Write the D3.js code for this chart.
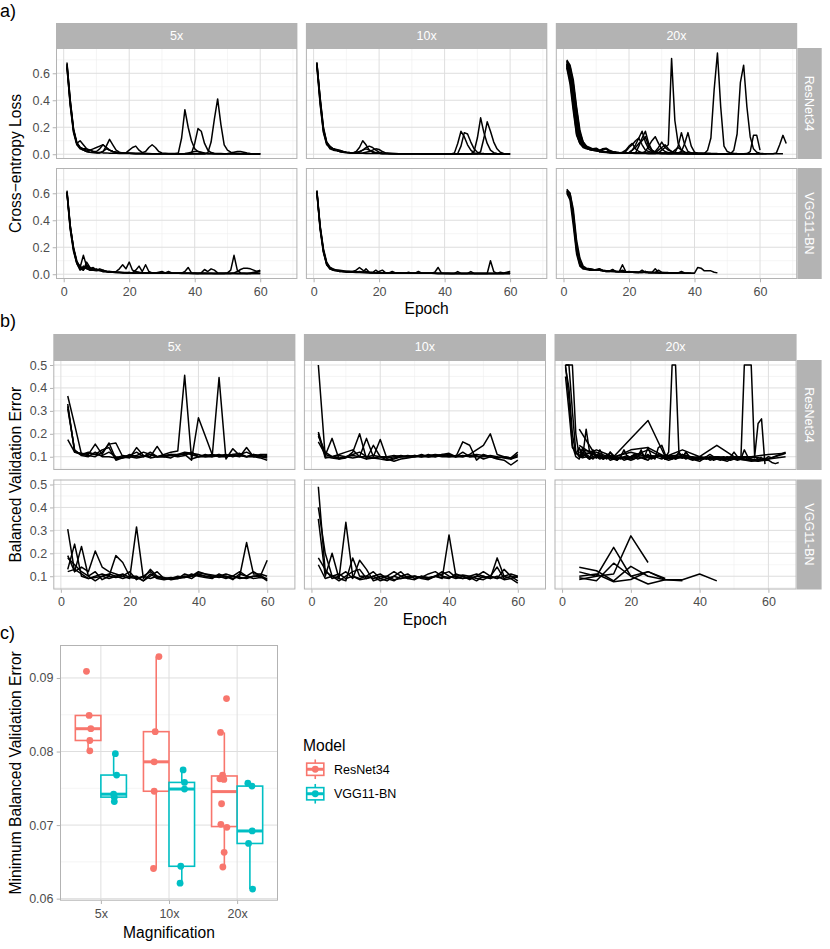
<!DOCTYPE html>
<html>
<head>
<meta charset="utf-8">
<script src="https://cdn.jsdelivr.net/npm/d3@7.9.0/dist/d3.min.js"></script>
<style>
  body { margin: 0; background: #fff; }
  svg { display: block; }
</style>
</head>
<body>
<svg id="chart" width="830" height="949"></svg>
<script>
const FONT = '"Liberation Sans", Arial, Helvetica, sans-serif';

const mags = ['5x', '10x', '20x'];
const models = ['ResNet34', 'VGG11-BN'];
const modelColors = ['#F8766D', '#00BFC4'];

// a) cross-entropy loss, one value per epoch from epoch 1
const lossResNet5x = [
  [0.68,0.4,0.18,0.08,0.1,0.07,0.04,0.03,0.02,0.015, 0.012,0.01,0.01,0.008,0.008,0.007,0.006,0.006,0.005,0.005, 0.005,0.004,0.004,0.004,0.004,0.003,0.003,0.003,0.003,0.003, 0.003,0.003,0.002,0.002,0.002,0.002,0.002,0.002,0.002,0.002, 0.002,0.002,0.002,0.01,0.09,0.26,0.41,0.22,0.07,0.03, 0.015,0.01,0.008,0.006,0.005,0.004,0.004,0.003,0.003,0.003],
  [0.66,0.38,0.18,0.08,0.05,0.04,0.03,0.03,0.04,0.05, 0.06,0.07,0.05,0.03,0.02,0.015,0.01,0.01,0.008,0.008, 0.007,0.006,0.006,0.005,0.005,0.005,0.004,0.004,0.004,0.004, 0.004,0.003,0.003,0.003,0.01,0.12,0.33,0.2,0.1,0.04, 0.02,0.012,0.008,0.006,0.005,0.004,0.004,0.003,0.003,0.003, 0.003,0.003,0.002,0.002,0.002,0.002,0.002,0.002,0.002,0.002],
  [0.65,0.36,0.16,0.07,0.04,0.03,0.02,0.015,0.012,0.01, 0.01,0.02,0.06,0.11,0.07,0.03,0.015,0.01,0.008,0.007, 0.006,0.006,0.005,0.005,0.004,0.004,0.004,0.004,0.003,0.003, 0.003,0.003,0.003,0.003,0.003,0.003,0.003,0.003,0.005,0.08, 0.19,0.17,0.08,0.03,0.012,0.008,0.006,0.005,0.004,0.004, 0.004,0.003,0.003,0.003,0.003,0.003,0.002,0.002,0.002,0.002],
  [0.67,0.4,0.19,0.09,0.05,0.03,0.02,0.015,0.012,0.01, 0.012,0.02,0.04,0.03,0.02,0.012,0.01,0.008,0.01,0.03, 0.05,0.06,0.03,0.012,0.02,0.05,0.07,0.05,0.02,0.01, 0.008,0.006,0.005,0.005,0.004,0.004,0.004,0.004,0.003,0.003, 0.003,0.003,0.003,0.003,0.003,0.003,0.003,0.003,0.003,0.005, 0.01,0.015,0.02,0.02,0.015,0.01,0.006,0.004,0.003,0.003],
  [0.64,0.37,0.17,0.08,0.05,0.04,0.04,0.03,0.02,0.02, 0.04,0.07,0.05,0.03,0.02,0.015,0.01,0.01,0.008,0.007, 0.006,0.006,0.005,0.005,0.005,0.004,0.004,0.004,0.004,0.004, 0.003,0.003,0.003,0.003,0.003,0.003,0.005,0.01,0.015,0.02, 0.02,0.015,0.01,0.006,0.005,0.004,0.004,0.003,0.003,0.003, 0.003,0.003,0.003,0.003,0.003,0.003,0.002,0.002,0.002,0.002]
];
const lossResNet10x = [
  [0.68,0.4,0.18,0.08,0.04,0.03,0.025,0.02,0.015,0.012, 0.01,0.01,0.008,0.008,0.007,0.006,0.006,0.005,0.005,0.005, 0.004,0.004,0.004,0.004,0.003,0.003,0.003,0.003,0.003,0.003, 0.003,0.003,0.002,0.002,0.002,0.002,0.002,0.002,0.002,0.002, 0.002,0.002,0.01,0.08,0.17,0.13,0.07,0.03,0.01,0.005, 0.004,0.003,0.003,0.003,0.002,0.002,0.002,0.002,0.002,0.002],
  [0.67,0.42,0.2,0.09,0.05,0.04,0.03,0.02,0.015,0.012, 0.01,0.01,0.02,0.05,0.1,0.07,0.03,0.015,0.01,0.008, 0.006,0.005,0.005,0.004,0.004,0.004,0.003,0.003,0.003,0.003, 0.003,0.003,0.003,0.002,0.002,0.002,0.002,0.002,0.002,0.002, 0.002,0.002,0.002,0.005,0.06,0.16,0.15,0.09,0.04,0.015, 0.008,0.005,0.004,0.003,0.003,0.002,0.002,0.002,0.002,0.002],
  [0.66,0.38,0.17,0.08,0.05,0.04,0.035,0.03,0.02,0.015, 0.012,0.01,0.01,0.015,0.03,0.05,0.06,0.05,0.03,0.015, 0.01,0.008,0.006,0.005,0.005,0.004,0.004,0.004,0.003,0.003, 0.003,0.003,0.003,0.003,0.003,0.002,0.002,0.002,0.002,0.002, 0.002,0.002,0.002,0.002,0.002,0.002,0.002,0.003,0.02,0.12, 0.27,0.16,0.08,0.03,0.012,0.006,0.004,0.003,0.002,0.002],
  [0.68,0.41,0.19,0.09,0.06,0.04,0.03,0.025,0.02,0.015, 0.012,0.01,0.008,0.008,0.01,0.015,0.02,0.03,0.04,0.035, 0.02,0.01,0.006,0.005,0.004,0.004,0.004,0.003,0.003,0.003, 0.003,0.003,0.003,0.003,0.002,0.002,0.002,0.002,0.002,0.002, 0.002,0.002,0.002,0.002,0.002,0.002,0.002,0.002,0.002,0.003, 0.02,0.12,0.24,0.17,0.09,0.04,0.015,0.006,0.003,0.002],
  [0.65,0.37,0.16,0.07,0.05,0.04,0.03,0.02,0.015,0.012, 0.01,0.01,0.015,0.02,0.03,0.04,0.03,0.02,0.012,0.008, 0.006,0.005,0.005,0.004,0.004,0.004,0.003,0.003,0.003,0.003, 0.003,0.003,0.002,0.002,0.002,0.002,0.002,0.002,0.002,0.002, 0.002,0.002,0.002,0.002,0.002,0.002,0.002,0.002,0.002,0.002, 0.002,0.002,0.002,0.002,0.002,0.002,0.002,0.002,0.002,0.002]
];
const lossResNet20x = [
  [0.69,0.62,0.45,0.25,0.12,0.07,0.05,0.04,0.03,0.03, 0.02,0.02,0.015,0.015,0.012,0.012,0.01,0.015,0.03,0.06, 0.08,0.04,0.02,0.012,0.01,0.008,0.008,0.007,0.007,0.006, 0.006,0.006,0.005,0.005,0.005,0.005,0.004,0.004,0.004,0.004, 0.004,0.004,0.004,0.003,0.003,0.003,0.003,0.003,0.003,0.003, 0.003,0.003,0.003,0.003,0.003,0.003,0.003,0.003,0.003,0.003, 0.003,0.003,0.003,0.003,0.01,0.07,0.14,0.08],
  [0.7,0.66,0.55,0.35,0.18,0.09,0.06,0.04,0.035,0.03, 0.02,0.018,0.015,0.013,0.012,0.01,0.01,0.009,0.009,0.008, 0.008,0.008,0.007,0.007,0.007,0.006,0.006,0.006,0.01,0.03, 0.05,0.07,0.71,0.25,0.08,0.03,0.015,0.01,0.008,0.007, 0.006,0.005,0.005,0.004,0.004,0.004,0.004,0.003,0.003,0.003, 0.003,0.003,0.003,0.003,0.003,0.003,0.003,0.003,0.003,0.003, 0.003,0.003,0.003,0.003,0.003,0.003,0.003],
  [0.67,0.6,0.42,0.22,0.1,0.06,0.045,0.035,0.03,0.04, 0.02,0.015,0.012,0.01,0.01,0.009,0.008,0.008,0.007,0.007, 0.007,0.006,0.006,0.006,0.005,0.005,0.005,0.005,0.005,0.004, 0.004,0.004,0.004,0.004,0.004,0.004,0.004,0.004,0.004,0.004, 0.003,0.003,0.005,0.03,0.12,0.48,0.75,0.35,0.06,0.02, 0.01,0.007,0.005,0.004,0.004,0.003,0.003,0.003,0.003,0.003, 0.003,0.003],
  [0.68,0.63,0.5,0.3,0.14,0.08,0.05,0.04,0.03,0.025, 0.02,0.03,0.04,0.025,0.015,0.012,0.01,0.01,0.009,0.009, 0.008,0.008,0.007,0.007,0.007,0.006,0.006,0.006,0.005,0.005, 0.005,0.005,0.005,0.005,0.004,0.004,0.004,0.004,0.004,0.004, 0.004,0.004,0.004,0.003,0.003,0.003,0.003,0.003,0.003,0.003, 0.003,0.03,0.15,0.53,0.66,0.35,0.13,0.04,0.015,0.008, 0.006],
  [0.66,0.58,0.38,0.18,0.09,0.06,0.05,0.04,0.04,0.03, 0.02,0.018,0.015,0.012,0.01,0.01,0.009,0.009,0.008,0.01, 0.03,0.07,0.12,0.17,0.09,0.04,0.02,0.012,0.01,0.008, 0.007,0.006,0.006,0.005,0.005,0.005,0.005,0.004,0.004,0.004, 0.004,0.004,0.004,0.004,0.003,0.003,0.003,0.003,0.003,0.003, 0.003,0.003,0.003,0.003,0.003,0.005,0.02,0.14,0.14,0.03],
  [0.65,0.55,0.35,0.15,0.08,0.05,0.04,0.035,0.03,0.025, 0.02,0.04,0.04,0.02,0.015,0.012,0.01,0.009,0.009,0.008, 0.008,0.01,0.06,0.12,0.17,0.08,0.03,0.015,0.01,0.008, 0.007,0.006,0.006,0.01,0.06,0.16,0.07,0.02,0.01,0.007, 0.006,0.005,0.005,0.004,0.004,0.004,0.004,0.004,0.003,0.003, 0.003,0.003,0.003,0.003,0.003,0.003,0.003],
  [0.67,0.6,0.46,0.26,0.12,0.07,0.05,0.04,0.04,0.035, 0.025,0.02,0.018,0.015,0.013,0.012,0.011,0.01,0.01,0.009, 0.009,0.008,0.008,0.01,0.02,0.06,0.1,0.13,0.08,0.04, 0.02,0.012,0.01,0.01,0.01,0.02,0.08,0.16,0.06,0.015, 0.008,0.006,0.005,0.005,0.004,0.004,0.004,0.004,0.004,0.003, 0.003,0.003,0.003,0.003,0.003],
  [0.64,0.52,0.32,0.14,0.08,0.06,0.05,0.04,0.035,0.04, 0.025,0.02,0.018,0.015,0.013,0.012,0.011,0.01,0.02,0.05, 0.07,0.1,0.12,0.07,0.03,0.02,0.015,0.02,0.05,0.09, 0.05,0.03,0.02,0.012,0.01,0.008,0.007,0.006,0.006,0.005, 0.005,0.005,0.004,0.004,0.004,0.004,0.004,0.003,0.003,0.003],
  [0.69,0.65,0.52,0.33,0.16,0.09,0.06,0.05,0.04,0.045, 0.03,0.04,0.045,0.03,0.02,0.015,0.012,0.011,0.01,0.01, 0.009,0.009,0.008,0.008,0.008,0.007,0.007,0.01,0.03,0.05, 0.07,0.04,0.02,0.012,0.01,0.009,0.008,0.007,0.007,0.006, 0.006,0.005,0.005,0.005,0.005,0.005,0.005],
  [0.66,0.57,0.4,0.2,0.1,0.06,0.045,0.035,0.03,0.028, 0.022,0.02,0.018,0.015,0.013,0.012,0.011,0.01,0.01,0.012, 0.03,0.05,0.08,0.1,0.13,0.06,0.03,0.015,0.012,0.01, 0.009,0.008,0.008,0.03,0.05,0.03,0.015,0.01,0.008,0.007, 0.006,0.006,0.005,0.005,0.005]
];
const lossVGG5x = [
  [0.61,0.35,0.2,0.1,0.05,0.14,0.06,0.04,0.05,0.03, 0.03,0.02,0.02,0.015,0.015,0.012,0.012,0.01,0.01,0.012, 0.01,0.01,0.012,0.01,0.01,0.009,0.009,0.01,0.008,0.008, 0.008,0.01,0.008,0.007,0.007,0.008,0.007,0.007,0.006,0.007, 0.006,0.006,0.007,0.006,0.006,0.006,0.005,0.006,0.005,0.01, 0.03,0.14,0.03,0.01,0.008,0.006,0.005,0.005,0.005,0.005],
  [0.6,0.33,0.17,0.08,0.04,0.03,0.09,0.05,0.04,0.03, 0.03,0.02,0.02,0.015,0.015,0.02,0.04,0.07,0.04,0.09, 0.03,0.02,0.015,0.012,0.01,0.012,0.01,0.01,0.008,0.008, 0.008,0.007,0.007,0.007,0.008,0.006,0.006,0.006,0.006,0.006, 0.006,0.005,0.006,0.005,0.005,0.005,0.005,0.005,0.005,0.005, 0.005,0.01,0.02,0.035,0.045,0.045,0.04,0.03,0.02,0.025],
  [0.62,0.36,0.19,0.09,0.06,0.04,0.05,0.03,0.04,0.03, 0.04,0.03,0.02,0.02,0.015,0.015,0.012,0.012,0.01,0.01, 0.012,0.03,0.06,0.02,0.07,0.02,0.01,0.01,0.01,0.012, 0.01,0.02,0.01,0.008,0.008,0.008,0.02,0.05,0.01,0.008, 0.007,0.007,0.007,0.007,0.007,0.006,0.006,0.006,0.006,0.006, 0.006,0.006,0.005,0.005,0.005,0.005,0.005,0.005,0.005,0.005],
  [0.6,0.34,0.18,0.08,0.03,0.06,0.04,0.03,0.03,0.025, 0.03,0.02,0.02,0.015,0.015,0.013,0.012,0.011,0.01,0.01, 0.01,0.01,0.01,0.01,0.009,0.009,0.009,0.008,0.008,0.008, 0.008,0.008,0.008,0.007,0.007,0.007,0.007,0.007,0.007,0.006, 0.006,0.01,0.035,0.02,0.04,0.03,0.01,0.008,0.007,0.007, 0.007,0.007,0.006,0.006,0.006,0.006,0.006,0.01,0.02,0.03],
  [0.61,0.36,0.19,0.09,0.05,0.03,0.07,0.04,0.03,0.04, 0.025,0.03,0.02,0.02,0.018,0.015,0.015,0.012,0.012,0.012, 0.01,0.01,0.01,0.01,0.01,0.01,0.009,0.009,0.015,0.02, 0.009,0.008,0.008,0.008,0.008,0.01,0.007,0.007,0.007,0.007, 0.006,0.006,0.006,0.006,0.006,0.006,0.006,0.005,0.005,0.005, 0.005,0.005,0.005,0.005,0.005,0.005,0.01,0.015,0.015,0.02]
];
const lossVGG10x = [
  [0.62,0.35,0.18,0.08,0.04,0.03,0.03,0.025,0.02,0.02, 0.02,0.02,0.03,0.05,0.03,0.02,0.015,0.012,0.01,0.01, 0.01,0.01,0.01,0.009,0.009,0.009,0.008,0.008,0.008,0.008, 0.007,0.007,0.007,0.007,0.007,0.007,0.007,0.006,0.006,0.006, 0.006,0.006,0.006,0.006,0.005,0.005,0.005,0.005,0.005,0.005, 0.005,0.005,0.005,0.1,0.02,0.006,0.005,0.005,0.005,0.005],
  [0.61,0.33,0.16,0.07,0.04,0.03,0.025,0.02,0.02,0.02, 0.02,0.015,0.015,0.02,0.015,0.04,0.015,0.012,0.01,0.01, 0.01,0.01,0.009,0.009,0.009,0.009,0.008,0.008,0.008,0.008, 0.007,0.02,0.007,0.007,0.007,0.007,0.015,0.05,0.01,0.006, 0.006,0.006,0.006,0.006,0.006,0.005,0.005,0.005,0.005,0.005, 0.005,0.005,0.005,0.005,0.005,0.005,0.005,0.005,0.01,0.02],
  [0.6,0.34,0.17,0.08,0.05,0.035,0.03,0.025,0.02,0.02, 0.018,0.016,0.015,0.014,0.013,0.012,0.011,0.011,0.01,0.02, 0.03,0.01,0.01,0.009,0.009,0.009,0.008,0.008,0.015,0.008, 0.008,0.007,0.007,0.007,0.007,0.007,0.006,0.006,0.006,0.006, 0.006,0.006,0.006,0.02,0.006,0.006,0.005,0.005,0.005,0.005, 0.005,0.005,0.005,0.005,0.005,0.005,0.005,0.005,0.005,0.005],
  [0.62,0.36,0.19,0.09,0.05,0.04,0.03,0.03,0.025,0.02, 0.02,0.02,0.018,0.016,0.015,0.014,0.013,0.012,0.03,0.012, 0.011,0.01,0.01,0.01,0.01,0.009,0.009,0.009,0.009,0.008, 0.008,0.008,0.008,0.008,0.007,0.007,0.007,0.007,0.007,0.007, 0.007,0.006,0.006,0.006,0.006,0.006,0.006,0.02,0.006,0.006, 0.006,0.006,0.006,0.006,0.006,0.006,0.015,0.01,0.015,0.02],
  [0.61,0.35,0.17,0.07,0.04,0.03,0.025,0.02,0.02,0.015, 0.015,0.015,0.013,0.012,0.012,0.011,0.01,0.01,0.01,0.01, 0.009,0.009,0.009,0.02,0.009,0.008,0.008,0.008,0.008,0.008, 0.007,0.007,0.007,0.007,0.007,0.007,0.007,0.006,0.006,0.006, 0.006,0.006,0.006,0.006,0.006,0.006,0.005,0.005,0.005,0.005, 0.005,0.005,0.005,0.005,0.005,0.005,0.005,0.005,0.005,0.005]
];
const lossVGG20x = [
  [0.63,0.6,0.45,0.22,0.1,0.05,0.04,0.035,0.03,0.03, 0.03,0.025,0.02,0.02,0.02,0.018,0.02,0.03,0.02,0.015, 0.015,0.013,0.012,0.012,0.012,0.011,0.011,0.01,0.01,0.01, 0.01,0.009,0.009,0.009,0.01,0.02,0.009,0.008,0.008,0.008, 0.05,0.045,0.025,0.025,0.025,0.015,0.01],
  [0.62,0.58,0.4,0.17,0.07,0.04,0.035,0.03,0.03,0.035, 0.04,0.025,0.02,0.02,0.03,0.02,0.018,0.07,0.02,0.015, 0.015,0.014,0.013,0.013,0.02,0.012,0.011,0.011,0.01,0.01, 0.01,0.01,0.009,0.009,0.009,0.009,0.008,0.008,0.008,0.008],
  [0.6,0.55,0.36,0.15,0.06,0.04,0.04,0.035,0.03,0.03, 0.03,0.025,0.025,0.022,0.02,0.02,0.018,0.016,0.015,0.015, 0.014,0.013,0.013,0.03,0.013,0.012,0.012,0.04,0.012,0.011, 0.011,0.01,0.01,0.01,0.01,0.009,0.009,0.009,0.008],
  [0.62,0.6,0.48,0.25,0.12,0.06,0.045,0.04,0.035,0.03, 0.04,0.03,0.025,0.022,0.035,0.02,0.018,0.018,0.017,0.02, 0.016,0.015,0.014,0.014,0.02,0.013,0.013,0.012,0.012,0.012, 0.011,0.011,0.011,0.01,0.01],
  [0.61,0.57,0.42,0.2,0.08,0.05,0.04,0.04,0.035,0.03, 0.03,0.028,0.025,0.025,0.023,0.02,0.02,0.02,0.018,0.018, 0.017,0.016,0.015,0.015,0.015,0.014,0.014,0.013,0.03,0.013, 0.012,0.012]
];

// b) balanced validation error
// 5x and 10x runs were validated every 2nd epoch starting at epoch 2
const valResNet5x = [
  [0.365,0.24,0.11,0.115,0.11,0.105,0.12,0.1,0.095,0.11, 0.1,0.105,0.095,0.1,0.11,0.12,0.125,0.455,0.09,0.1, 0.105,0.11,0.1,0.1,0.11,0.105,0.1,0.11,0.1,0.095],
  [0.33,0.12,0.115,0.11,0.155,0.11,0.16,0.09,0.1,0.105, 0.12,0.1,0.11,0.1,0.105,0.11,0.11,0.11,0.085,0.27, 0.19,0.11,0.1,0.105,0.11,0.115,0.1,0.11,0.105,0.1],
  [0.32,0.125,0.11,0.105,0.1,0.12,0.155,0.16,0.1,0.095, 0.14,0.105,0.1,0.145,0.1,0.11,0.105,0.115,0.11,0.1, 0.1,0.1,0.445,0.09,0.135,0.105,0.1,0.1,0.11,0.11],
  [0.175,0.12,0.11,0.12,0.11,0.13,0.14,0.085,0.095,0.1, 0.105,0.12,0.11,0.1,0.1,0.095,0.11,0.12,0.115,0.11, 0.1,0.105,0.11,0.1,0.105,0.1,0.14,0.1,0.095,0.085],
  [0.31,0.13,0.105,0.1,0.12,0.1,0.1,0.095,0.105,0.1, 0.095,0.1,0.12,0.1,0.1,0.105,0.1,0.105,0.12,0.1, 0.11,0.1,0.105,0.11,0.1,0.11,0.12,0.105,0.1,0.105]
];
const valResNet10x = [
  [0.5,0.1,0.095,0.09,0.1,0.095,0.1,0.1,0.095,0.1, 0.1,0.105,0.1,0.1,0.105,0.1,0.1,0.105,0.1,0.1, 0.1,0.1,0.105,0.11,0.105,0.1,0.095,0.1,0.09,0.11],
  [0.208,0.105,0.18,0.09,0.095,0.12,0.2,0.09,0.095,0.09, 0.085,0.09,0.1,0.1,0.105,0.1,0.11,0.1,0.105,0.11, 0.1,0.165,0.15,0.085,0.11,0.1,0.095,0.1,0.095,0.12],
  [0.165,0.11,0.1,0.095,0.1,0.105,0.1,0.18,0.1,0.175, 0.09,0.08,0.09,0.095,0.1,0.1,0.105,0.11,0.105,0.1, 0.105,0.1,0.11,0.13,0.15,0.2,0.11,0.1,0.095,0.105],
  [0.19,0.12,0.1,0.105,0.1,0.11,0.12,0.1,0.105,0.1, 0.095,0.1,0.105,0.1,0.1,0.11,0.1,0.105,0.11,0.115, 0.1,0.12,0.1,0.105,0.09,0.1,0.09,0.085,0.064,0.085],
  [0.2,0.095,0.1,0.11,0.12,0.13,0.1,0.09,0.15,0.1, 0.085,0.095,0.1,0.105,0.1,0.105,0.1,0.1,0.11,0.105, 0.1,0.105,0.1,0.1,0.1,0.105,0.1,0.095,0.09,0.1]
];
// 20x ResNet34: some runs validated every epoch from 1, others every 5th epoch from 5
const valResNet20xEach = [
  [0.5,0.5,0.5,0.2,0.1,0.12,0.1,0.09,0.1,0.095, 0.11,0.09,0.1,0.12,0.1,0.095,0.09,0.1,0.105,0.095, 0.1,0.09,0.095,0.1,0.11,0.095,0.1,0.105,0.1,0.095, 0.12,0.5,0.5,0.11,0.1,0.095,0.1,0.09,0.095,0.1, 0.095,0.1,0.09,0.095,0.1,0.09,0.085,0.09,0.095,0.1, 0.09,0.095,0.1,0.09,0.095,0.1,0.09,0.085,0.09,0.1, 0.095,0.1,0.105,0.11,0.115],
  [0.5,0.5,0.3,0.12,0.105,0.1,0.11,0.09,0.13,0.1, 0.095,0.09,0.1,0.085,0.09,0.1,0.095,0.085,0.09,0.1, 0.105,0.1,0.12,0.1,0.095,0.09,0.1,0.095,0.09,0.1, 0.095,0.1,0.09,0.095,0.11,0.1,0.09,0.085,0.09,0.1, 0.09,0.095,0.085,0.09,0.1,0.095,0.085,0.08,0.09,0.095, 0.1,0.09,0.5,0.5,0.5,0.1,0.245,0.265,0.068],
  [0.49,0.4,0.2,0.11,0.14,0.1,0.22,0.12,0.1,0.095, 0.13,0.1,0.09,0.12,0.105,0.09,0.1,0.095,0.09,0.085, 0.09,0.1,0.12,0.1,0.14,0.1,0.09,0.14,0.15,0.11, 0.1,0.09,0.095,0.1,0.095,0.12,0.1,0.09,0.085,0.09, 0.095,0.09,0.1,0.085,0.09,0.095,0.1,0.09,0.085,0.09],
  [0.5,0.35,0.15,0.1,0.09,0.14,0.11,0.1,0.09,0.105, 0.1,0.09,0.11,0.1,0.095,0.085,0.1,0.13,0.1,0.09, 0.095,0.1,0.13,0.09,0.085,0.1,0.095,0.11,0.1,0.09, 0.085,0.09,0.1,0.12,0.1,0.09,0.095,0.1,0.085,0.08, 0.09,0.1,0.11,0.1,0.09,0.095,0.085,0.09,0.1,0.12, 0.1,0.09,0.13,0.1,0.085,0.09,0.08,0.1],
  [0.45,0.3,0.14,0.12,0.1,0.095,0.1,0.09,0.12,0.1, 0.09,0.1,0.095,0.1,0.09,0.085,0.1,0.095,0.09,0.1, 0.11,0.1,0.095,0.09,0.1,0.095,0.1,0.105,0.1,0.09, 0.1,0.095,0.09,0.1,0.095,0.12,0.1,0.095,0.09,0.1, 0.095,0.09,0.1,0.095,0.09,0.085,0.09,0.1,0.095,0.09, 0.085,0.09,0.095,0.1,0.09,0.085,0.08,0.085,0.09,0.085, 0.075,0.07,0.075]
];
const valResNet20xEvery5 = [
  [0.22,0.1,0.1,0.18,0.258,0.1,0.095,0.1,0.09,0.095,0.1,0.11,0.115],
  [0.12,0.11,0.09,0.1,0.105,0.1,0.13,0.1,0.15,0.1,0.1,0.09,0.12],
  [0.15,0.1,0.095,0.13,0.14,0.1,0.11,0.09,0.1,0.095,0.08,0.085],
  [0.13,0.12,0.09,0.1,0.13,0.09,0.1,0.095,0.1,0.09,0.085,0.09,0.1],
  [0.1,0.13,0.1,0.12,0.1,0.105,0.1,0.09,0.095,0.1,0.085]
];
const valVGG5x = [
  [0.305,0.12,0.14,0.12,0.21,0.14,0.12,0.11,0.1,0.09, 0.315,0.09,0.13,0.1,0.09,0.095,0.09,0.1,0.1,0.12, 0.11,0.105,0.1,0.11,0.1,0.12,0.1,0.12,0.1,0.17],
  [0.13,0.24,0.1,0.09,0.1,0.11,0.1,0.19,0.16,0.1, 0.1,0.08,0.1,0.12,0.09,0.09,0.095,0.1,0.09,0.11, 0.1,0.1,0.105,0.1,0.09,0.1,0.247,0.11,0.11,0.1],
  [0.19,0.12,0.23,0.1,0.08,0.1,0.09,0.1,0.11,0.095, 0.09,0.1,0.12,0.095,0.09,0.09,0.1,0.095,0.1,0.115, 0.11,0.1,0.095,0.1,0.085,0.11,0.1,0.09,0.095,0.09],
  [0.18,0.15,0.12,0.1,0.12,0.085,0.1,0.095,0.1,0.12, 0.085,0.1,0.09,0.1,0.095,0.085,0.09,0.11,0.1,0.105, 0.1,0.095,0.1,0.09,0.1,0.095,0.09,0.1,0.1,0.08],
  [0.12,0.13,0.11,0.09,0.095,0.1,0.11,0.1,0.09,0.1, 0.095,0.08,0.11,0.09,0.085,0.09,0.09,0.095,0.11,0.1, 0.095,0.09,0.11,0.095,0.1,0.09,0.095,0.1,0.105,0.085]
];
const valVGG10x = [
  [0.49,0.12,0.1,0.09,0.335,0.1,0.09,0.1,0.12,0.09, 0.08,0.1,0.09,0.095,0.1,0.09,0.085,0.1,0.09,0.28, 0.1,0.09,0.095,0.08,0.1,0.09,0.18,0.1,0.09,0.1],
  [0.4,0.2,0.1,0.08,0.1,0.12,0.13,0.09,0.1,0.08, 0.09,0.1,0.12,0.09,0.1,0.095,0.09,0.1,0.12,0.1, 0.09,0.1,0.085,0.1,0.12,0.1,0.09,0.13,0.1,0.08],
  [0.35,0.1,0.2,0.09,0.08,0.18,0.1,0.1,0.09,0.1, 0.1,0.085,0.09,0.1,0.1,0.095,0.11,0.12,0.1,0.095, 0.1,0.105,0.1,0.09,0.085,0.1,0.14,0.09,0.1,0.095],
  [0.18,0.13,0.09,0.1,0.12,0.09,0.17,0.13,0.08,0.09, 0.1,0.12,0.1,0.09,0.085,0.1,0.095,0.1,0.11,0.12, 0.095,0.09,0.1,0.11,0.1,0.09,0.1,0.085,0.09,0.07],
  [0.15,0.09,0.1,0.11,0.09,0.1,0.085,0.09,0.1,0.11, 0.09,0.08,0.1,0.11,0.09,0.1,0.09,0.1,0.095,0.09, 0.11,0.1,0.09,0.1,0.095,0.1,0.09,0.1,0.11,0.1]
];
// 20x VGG11-BN: every 5th epoch from 5
const valVGG20x = [
  [0.119,0.1,0.11,0.276,0.16],
  [0.093,0.08,0.157,0.1,0.12,0.085,0.085,0.11,0.08],
  [0.139,0.124,0.08,0.143,0.1,0.085,0.08],
  [0.086,0.1,0.226,0.1,0.066,0.085],
  [0.1,0.11,0.076,0.086,0.12,0.09]
];

// c) minimum balanced validation error per run, with jitter (fraction of category step)
const minResNet5x = [0.0909, 0.0849, 0.0831, 0.0815, 0.0801];
const minResNet10x = [0.0929, 0.0827, 0.0786, 0.0746, 0.0641];
const minResNet20x = [0.0872, 0.0826, 0.0768, 0.0763, 0.0762, 0.0729, 0.0701, 0.0697, 0.0663, 0.0643];
const minVGG5x = [0.0797, 0.0768, 0.0742, 0.0738, 0.0732];
const minVGG10x = [0.0775, 0.0758, 0.0749, 0.0644, 0.0621];
const minVGG20x = [0.0757, 0.0753, 0.0692, 0.0675, 0.0613];
const jitResNet5x = [-0.024, 0.015, 0.04, 0.025, 0.025];
const jitResNet10x = [0.04, -0.015, -0.03, -0.03, -0.04];
const jitResNet20x = [0.032, -0.056, -0.026, -0.066, -0.007, -0.041, -0.051, 0.037, -0.003, -0.022];
const jitVGG5x = [0.025, 0.044, 0, 0.01, 0.01];
const jitVGG10x = [0.02, 0.04, 0.04, -0.015, -0.025];
const jitVGG20x = [-0.03, 0.03, 0.034, -0.02, 0.04];

// ---------- build series ----------
const toRuns = (arrays, first, step) =>
  arrays.map(vals => vals.map((v, i) => ({ epoch: first + i * step, value: v })));

const lossRuns = [
  [toRuns(lossResNet5x, 1, 1), toRuns(lossResNet10x, 1, 1), toRuns(lossResNet20x, 1, 1)],
  [toRuns(lossVGG5x, 1, 1), toRuns(lossVGG10x, 1, 1), toRuns(lossVGG20x, 1, 1)]
];
const valRuns = [
  [toRuns(valResNet5x, 2, 2), toRuns(valResNet10x, 2, 2),
   toRuns(valResNet20xEach, 1, 1).concat(toRuns(valResNet20xEvery5, 5, 5))],
  [toRuns(valVGG5x, 2, 2), toRuns(valVGG10x, 2, 2), toRuns(valVGG20x, 5, 5)]
];

const svg = d3.select('#chart').attr('font-family', FONT);
svg.append('rect').attr('width', 830).attr('height', 949).attr('fill', '#fff');

const GRID = '#DEDEDE', GRID_MINOR = '#EEEEEE', BORDER = '#B3B3B3', STRIP = '#B3B3B3', TXT = '#4D4D4D';

function expand(ext, f = 0.05) {
  const d = ext[1] - ext[0];
  return [ext[0] - d * f, ext[1] + d * f];
}

function styleAxis(g) {
  g.attr('font-family', FONT).attr('font-size', 12.5);
  g.select('.domain').remove();
  g.selectAll('.tick line').attr('stroke', BORDER).attr('stroke-width', 1);
  g.selectAll('.tick text').attr('fill', TXT);
}

function facetGrid(runsGrid, o) {
  const all = runsGrid.flat(3);
  const x = d3.scaleLinear().domain(expand(d3.extent(all, d => d.epoch))).range([0, o.pw]);
  const y = d3.scaleLinear().domain(expand(d3.extent(all, d => d.value))).range([o.ph, 0]);
  const line = d3.line().x(d => x(d.epoch)).y(d => y(d.value));
  const inX = v => v >= x.domain()[0] && v <= x.domain()[1];
  const inY = v => v >= y.domain()[0] && v <= y.domain()[1];
  const xMajor = [0, 20, 40, 60].filter(inX), xMinor = [10, 30, 50, 70].filter(inX);
  const yMajor = o.yMajor.filter(inY), yMinor = o.yMinor.filter(inY);

  // column strips
  mags.forEach((m, ci) => {
    const px = o.left + ci * (o.pw + o.gap);
    svg.append('rect').attr('x', px).attr('y', o.top - o.stripH)
      .attr('width', o.pw).attr('height', o.stripH).attr('fill', STRIP);
    svg.append('text').attr('x', px + o.pw / 2).attr('y', o.top - o.stripH / 2)
      .attr('dy', '0.35em').attr('text-anchor', 'middle').attr('fill', '#fff')
      .attr('font-size', 12.5).text(m);
  });

  models.forEach((mod, ri) => {
    const py = o.top + ri * (o.ph + o.vgap);
    // row strip
    const sx = o.left + 3 * o.pw + 2 * o.gap;
    svg.append('rect').attr('x', sx).attr('y', py).attr('width', o.stripW).attr('height', o.ph).attr('fill', STRIP);
    svg.append('text')
      .attr('transform', `translate(${sx + o.stripW / 2},${py + o.ph / 2}) rotate(90)`)
      .attr('dy', '0.35em').attr('text-anchor', 'middle').attr('fill', '#fff')
      .attr('font-size', 12.5).text(mod);

    mags.forEach((m, ci) => {
      const px = o.left + ci * (o.pw + o.gap);
      const g = svg.append('g').attr('transform', `translate(${px},${py})`);
      g.append('rect').attr('width', o.pw).attr('height', o.ph).attr('fill', '#fff');
      g.selectAll('.xmin').data(xMinor).join('line')
        .attr('x1', d => x(d)).attr('x2', d => x(d)).attr('y1', 0).attr('y2', o.ph)
        .attr('stroke', GRID_MINOR).attr('stroke-width', 0.6);
      g.selectAll('.ymin').data(yMinor).join('line')
        .attr('y1', d => y(d)).attr('y2', d => y(d)).attr('x1', 0).attr('x2', o.pw)
        .attr('stroke', GRID_MINOR).attr('stroke-width', 0.6);
      g.selectAll('.xmaj').data(xMajor).join('line')
        .attr('x1', d => x(d)).attr('x2', d => x(d)).attr('y1', 0).attr('y2', o.ph)
        .attr('stroke', GRID).attr('stroke-width', 1);
      g.selectAll('.ymaj').data(yMajor).join('line')
        .attr('y1', d => y(d)).attr('y2', d => y(d)).attr('x1', 0).attr('x2', o.pw)
        .attr('stroke', GRID).attr('stroke-width', 1);

      g.selectAll('path.run').data(runsGrid[ri][ci]).join('path')
        .attr('class', 'run').attr('d', line)
        .attr('fill', 'none').attr('stroke', '#000').attr('stroke-width', 1.5)
        .attr('stroke-linejoin', 'round');

      g.append('rect').attr('x', 0.5).attr('y', 0.5).attr('width', o.pw - 1).attr('height', o.ph - 1)
        .attr('fill', 'none').attr('stroke', BORDER).attr('stroke-width', 1);

      if (ci === 0) {
        g.append('g').call(d3.axisLeft(y).tickValues(yMajor).tickFormat(d3.format('.1f'))
          .tickSize(3.3).tickPadding(2.8)).call(styleAxis);
      }
      if (ri === 1) {
        g.append('g').attr('transform', `translate(0,${o.ph})`)
          .call(d3.axisBottom(x).tickValues(xMajor).tickFormat(d3.format('d'))
            .tickSize(3.3).tickPadding(o.xPad)).call(styleAxis);
      }
    });
  });

  const plotBottom = o.top + 2 * o.ph + o.vgap;
  const totalW = 3 * o.pw + 2 * o.gap;
  svg.append('text').attr('x', o.left + totalW / 2).attr('y', o.xTitleY)
    .attr('text-anchor', 'middle').attr('font-size', 15.6).attr('fill', '#000').text('Epoch');
  svg.append('text').attr('transform', `translate(20.5,${(o.top + plotBottom) / 2}) rotate(-90)`)
    .attr('text-anchor', 'middle').attr('font-size', 15.6).attr('fill', '#000').text(o.yTitle);
  svg.append('text').attr('x', 0).attr('y', o.tagY).attr('font-size', 18).attr('fill', '#000').text(o.tag);
}

facetGrid(lossRuns, {
  left: 56, top: 48, pw: 241.4, ph: 111, gap: 8.5, vgap: 9, stripH: 25, stripW: 24.5,
  yMajor: [0, 0.2, 0.4, 0.6], yMinor: [0.1, 0.3, 0.5, 0.7], xPad: 5,
  yTitle: 'Cross\u2212entropy Loss', xTitleY: 313.5, tag: 'a)', tagY: 16.5
});
facetGrid(valRuns, {
  left: 53.3, top: 360, pw: 242.1, ph: 110, gap: 8.5, vgap: 9.5, stripH: 26, stripW: 25,
  yMajor: [0.1, 0.2, 0.3, 0.4, 0.5], yMinor: [0.05, 0.15, 0.25, 0.35, 0.45], xPad: 4.5,
  yTitle: 'Balanced Validation Error', xTitleY: 624.5, tag: 'b)', tagY: 326.5
});

// ---------- c) boxplots ----------
const minErr = [
  [minResNet5x, minResNet10x, minResNet20x],
  [minVGG5x, minVGG10x, minVGG20x]
];
const jitter = [
  [jitResNet5x, jitResNet10x, jitResNet20x],
  [jitVGG5x, jitVGG10x, jitVGG20x]
];
const cBox = { left: 60, right: 278, top: 645, bottom: 900.7 };
const cx = d3.scalePoint().domain(mags).range([cBox.left, cBox.right]).padding(0.6);
const step = cx.step();
const boxW = step * 0.75 / 2;
const cy = d3.scaleLinear()
  .domain(expand(d3.extent(minErr.flat(2))))
  .range([cBox.bottom, cBox.top]);

const gc = svg.append('g');
gc.append('rect').attr('x', cBox.left).attr('y', cBox.top)
  .attr('width', cBox.right - cBox.left).attr('height', cBox.bottom - cBox.top).attr('fill', '#fff');
gc.selectAll('.cymin').data([0.065, 0.075, 0.085]).join('line')
  .attr('x1', cBox.left).attr('x2', cBox.right).attr('y1', d => cy(d)).attr('y2', d => cy(d))
  .attr('stroke', GRID_MINOR).attr('stroke-width', 0.6);
gc.selectAll('.cymaj').data([0.06, 0.07, 0.08, 0.09]).join('line')
  .attr('x1', cBox.left).attr('x2', cBox.right).attr('y1', d => cy(d)).attr('y2', d => cy(d))
  .attr('stroke', GRID).attr('stroke-width', 1);
gc.selectAll('.cxmaj').data(mags).join('line')
  .attr('x1', d => cx(d)).attr('x2', d => cx(d)).attr('y1', cBox.top).attr('y2', cBox.bottom)
  .attr('stroke', GRID).attr('stroke-width', 1);

models.forEach((mod, mi) => {
  const col = modelColors[mi];
  mags.forEach((m, ci) => {
    const vals = minErr[mi][ci];
    const sorted = vals.slice().sort(d3.ascending);
    const q1 = d3.quantile(sorted, 0.25), med = d3.quantile(sorted, 0.5), q3 = d3.quantile(sorted, 0.75);
    const iqr = q3 - q1;
    const hi = d3.max(sorted.filter(v => v <= q3 + 1.5 * iqr));
    const lo = d3.min(sorted.filter(v => v >= q1 - 1.5 * iqr));
    const center = cx(m) + (mi === 0 ? -1 : 1) * boxW / 2;
    const g = gc.append('g');
    g.append('line').attr('x1', center).attr('x2', center).attr('y1', cy(q3)).attr('y2', cy(hi))
      .attr('stroke', col).attr('stroke-width', 1.6);
    g.append('line').attr('x1', center).attr('x2', center).attr('y1', cy(q1)).attr('y2', cy(lo))
      .attr('stroke', col).attr('stroke-width', 1.6);
    g.append('rect').attr('x', center - boxW / 2).attr('y', cy(q3))
      .attr('width', boxW).attr('height', cy(q1) - cy(q3))
      .attr('fill', '#fff').attr('stroke', col).attr('stroke-width', 1.6);
    g.append('line').attr('x1', center - boxW / 2).attr('x2', center + boxW / 2)
      .attr('y1', cy(med)).attr('y2', cy(med)).attr('stroke', col).attr('stroke-width', 3);
    g.selectAll('circle').data(vals).join('circle')
      .attr('cx', (d, i) => center + jitter[mi][ci][i] * step)
      .attr('cy', d => cy(d)).attr('r', 3.4).attr('fill', col);
  });
});

gc.append('rect').attr('x', cBox.left + 0.5).attr('y', cBox.top + 0.5)
  .attr('width', cBox.right - cBox.left - 1).attr('height', cBox.bottom - cBox.top - 1)
  .attr('fill', 'none').attr('stroke', BORDER).attr('stroke-width', 1);

gc.append('g').attr('transform', `translate(${cBox.left},0)`)
  .call(d3.axisLeft(cy).tickValues([0.06, 0.07, 0.08, 0.09]).tickFormat(d3.format('.2f'))
    .tickSize(3.3).tickPadding(3.2)).call(styleAxis);
gc.append('g').attr('transform', `translate(0,${cBox.bottom})`)
  .call(d3.axisBottom(cx).tickSize(3.3).tickPadding(5.5)).call(styleAxis);

svg.append('text').attr('x', (cBox.left + cBox.right) / 2).attr('y', 937.5)
  .attr('text-anchor', 'middle').attr('font-size', 15.6).text('Magnification');
svg.append('text').attr('transform', `translate(20.5,${(cBox.top + cBox.bottom) / 2}) rotate(-90)`)
  .attr('text-anchor', 'middle').attr('font-size', 15.6).text('Minimum Balanced Validation Error');
svg.append('text').attr('x', 0).attr('y', 638.5).attr('font-size', 18).text('c)');

// legend
const lg = svg.append('g').attr('transform', 'translate(303,0)');
lg.append('text').attr('x', 0).attr('y', 751).attr('font-size', 15.6).text('Model');
const key = 24.5;
models.forEach((mod, i) => {
  const ky = 757 + i * key;
  const col = modelColors[i];
  const k = lg.append('g').attr('transform', `translate(0,${ky})`);
  k.append('line').attr('x1', key / 2).attr('x2', key / 2).attr('y1', key * 0.1).attr('y2', key * 0.9)
    .attr('stroke', col).attr('stroke-width', 1.6);
  k.append('rect').attr('x', key * 0.15).attr('y', key * 0.25).attr('width', key * 0.7).attr('height', key * 0.5)
    .attr('fill', '#fff').attr('stroke', col).attr('stroke-width', 1.6);
  k.append('line').attr('x1', key * 0.15).attr('x2', key * 0.85).attr('y1', key / 2).attr('y2', key / 2)
    .attr('stroke', col).attr('stroke-width', 3);
  k.append('circle').attr('cx', key / 2).attr('cy', key / 2).attr('r', 3.4).attr('fill', col);
  lg.append('text').attr('x', 31).attr('y', ky + key / 2).attr('dy', '0.35em')
    .attr('font-size', 12.5).text(mod);
});
</script>
</body>
</html>
